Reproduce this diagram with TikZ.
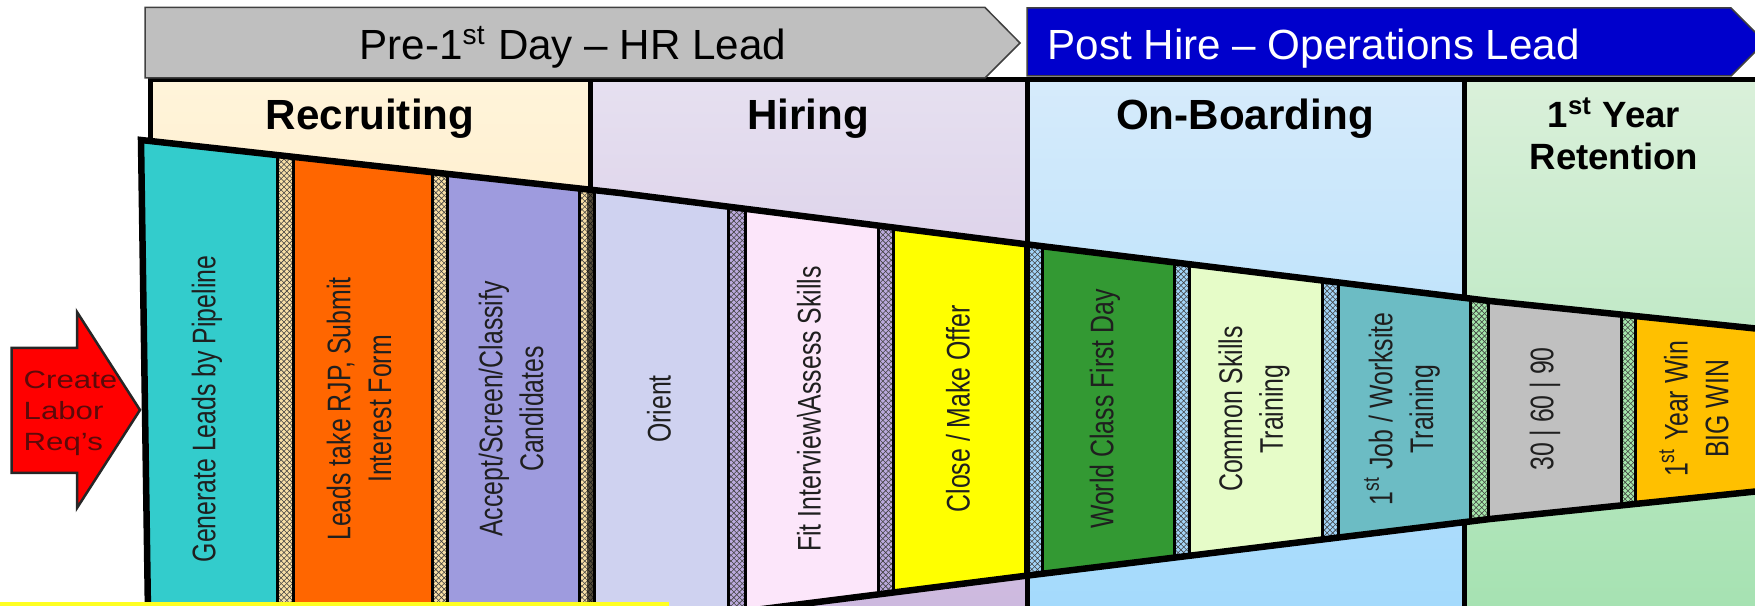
\documentclass[tikz,border=0pt]{standalone}
\usepackage{fontspec}
\setmainfont{Liberation Sans}
\newfontfamily\narrowfont[FakeStretch=0.76]{Liberation Sans}
\newfontfamily\widefont[FakeStretch=1.25]{Liberation Sans}
\usetikzlibrary{patterns.meta}

\definecolor{bannergray}{HTML}{BFBFBF}
\definecolor{bannerblue}{HTML}{0000CC}
\definecolor{recT}{HTML}{FFF4DA}
\definecolor{recB}{HTML}{FDE2B0}
\definecolor{hirT}{HTML}{E6E0F0}
\definecolor{hirB}{HTML}{CDB9DF}
\definecolor{onbT}{HTML}{D6EBFB}
\definecolor{onbB}{HTML}{A4DAFC}
\definecolor{retT}{HTML}{DAF0DA}
\definecolor{retB}{HTML}{A6E2B2}
\definecolor{blkA}{HTML}{33CCCC}
\definecolor{blkB}{HTML}{FF6600}
\definecolor{blkC}{HTML}{9E9BDE}
\definecolor{blkD}{HTML}{CFD2F0}
\definecolor{blkE}{HTML}{FCE6FA}
\definecolor{blkF}{HTML}{FFFF00}
\definecolor{blkG}{HTML}{339933}
\definecolor{blkH}{HTML}{E6FCC8}
\definecolor{blkI}{HTML}{6CBCC4}
\definecolor{blkJ}{HTML}{C0C0C0}
\definecolor{blkK}{HTML}{FFC000}
\definecolor{sepR}{HTML}{F8DFA6}
\definecolor{sepH}{HTML}{BBAADD}
\definecolor{sepO}{HTML}{A2D4F8}
\definecolor{sepT}{HTML}{A4E6AA}
\definecolor{reqtext}{HTML}{5C0A0A}
\definecolor{boxyellow}{HTML}{FFFF22}

\tikzdeclarepattern{
  name=xmesh,
  type=uncolored,
  bottom left={(-0.1pt,-0.1pt)},
  top right={(1.7pt,1.7pt)},
  tile size={(1.6pt,1.6pt)},
  code={
    \draw[line width=0.16pt] (0pt,0pt) -- (1.6pt,1.6pt) (0pt,1.6pt) -- (1.6pt,0pt);
  }
}

\tikzset{
  blocktext/.style={rotate=90, align=center, inner sep=0pt, text=black!88,
    font=\narrowfont\fontsize{9.3pt}{11.6pt}\selectfont},
  headtext/.style={inner sep=0pt, font=\bfseries\fontsize{12pt}{14pt}\selectfont},
  rettext/.style={inner sep=0pt, align=center, font=\bfseries\fontsize{10.4pt}{12pt}\selectfont},
  bannertext/.style={inner sep=0pt, font=\fontsize{12pt}{14pt}\selectfont},
  banner/.style={draw=black!75, line width=0.15mm, line join=miter},
  hdrline/.style={line width=0.5mm},
  sepline/.style={line width=0.3mm},
  funnelline/.style={line width=0.65mm, line join=miter},
}

\begin{document}
\begin{tikzpicture}[x=0.1mm, y=-0.1mm]
\useasboundingbox (0,0) rectangle (1755,606);
\clip (0,0) rectangle (1755,606);

% header boxes
\fill[top color=recT, bottom color=recB] (150,80) rectangle (590,606);
\fill[top color=hirT, bottom color=hirB] (590,80) rectangle (1027,606);
\fill[top color=onbT, bottom color=onbB] (1027,80) rectangle (1464.5,606);
\fill[top color=retT, bottom color=retB] (1464.5,80) rectangle (1770,606);
\draw[hdrline] (147.5,80) -- (1770,80);
\draw[hdrline] (150,80) -- (150,606) (590,80) -- (590,606) (1027,80) -- (1027,606) (1464.5,80) -- (1464.5,606);

% funnel blocks
\begin{scope}
\clip (141,140) -- (620,193) -- (1024,244) -- (1490,301) -- (1770,330) -- (1770,490) -- (1490,519) -- (1024,576) -- (620,627) -- (149,680) -- cycle;
\foreach \l/\r/\c in {120/277/blkA, 293/432/blkB, 447/580/blkC, 594/729/blkD, 745/878/blkE, 893/1026/blkF, 1042/1174/blkG, 1189/1323/blkH, 1338/1471/blkI, 1488/1622/blkJ, 1635/1780/blkK}
  \fill[\c] (\l,100) rectangle (\r,700);
\foreach \a/\b/\c in {277/293/sepR, 432/447/sepR, 579.5/594/sepR, 728.5/745/sepH, 878/893/sepH, 1027/1042.5/sepO, 1174/1189.5/sepO, 1322.5/1338.5/sepO, 1470.5/1488.5/sepT, 1621.5/1635.5/sepT}
{
  \fill[\c] (\a,100) rectangle (\b,700);
  \fill[pattern=xmesh, pattern color=black!75] (\a,100) rectangle (\b,700);
  \draw[sepline] (\a,100) -- (\a,700) (\b,100) -- (\b,700);
}
\fill[black, opacity=0.65] (587,100) rectangle (595,700);
\draw[line width=0.55mm] (1027,100) -- (1027,700);
\end{scope}
\draw[funnelline] (141,140) -- (620,193) -- (1024,244) -- (1490,301) -- (1770,330) -- (1770,490) -- (1490,519) -- (1024,576) -- (620,627) -- (149,680) -- cycle;

% yellow box at the bottom
\fill[boxyellow] (0,602.5) rectangle (669,620);

% create labor req arrow
\draw[fill=red, draw=black!85, line width=0.25mm, line join=miter] (11.7,348) -- (77,348) -- (77,312) -- (140,410) -- (77,508) -- (77,473) -- (11.7,473) -- cycle;
\node[anchor=west, align=left, inner sep=0pt, text=reqtext, font=\widefont\fontsize{7.1pt}{8.8pt}\selectfont] (req) at (23,413) {Create\\Labor\\Req’s};

% banners
\draw[banner, fill=bannergray] (145,7.5) -- (985,7.5) -- (1020,43) -- (985,78) -- (145,78) -- cycle;
\draw[banner, fill=bannerblue] (1027,8) -- (1731,8) -- (1765,42) -- (1731,76) -- (1027,76) -- cycle;
\node[bannertext, anchor=base] (pre) at (573,60) {Pre-1\textsuperscript{st} Day – HR Lead};
\node[bannertext, anchor=base west, text=white] (post) at (1047,60) {Post Hire – Operations Lead};

% header texts
\node[headtext, anchor=base] (rec) at (370,130) {Recruiting};
\node[headtext, anchor=base] (hir) at (808,130) {Hiring};
\node[headtext, anchor=base] (onb) at (1245,130) {On-Boarding};
\node[rettext] (ret) at (1614,134) {1\textsuperscript{st} Year\\Retention};

% block texts
\node[blocktext] (t1) at (207,409) {Generate Leads by Pipeline};
\node[blocktext] (t2) at (359,409) {Leads take RJP, Submit\\Interest Form};
\node[blocktext] (t3) at (511,409) {Accept/Screen/Classify\\Candidates};
\node[blocktext] (t4) at (659,409) {Orient};
\node[blocktext] (t5) at (809,409) {Fit Interview\textbackslash Assess Skills};
\node[blocktext] (t6) at (958,409) {Close / Make Offer};
\node[blocktext] (t7) at (1105,409) {World Class First Day};
\node[blocktext] (t8) at (1254,409) {Common Skills\\Training};
\node[blocktext] (t9) at (1402,409) {1\textsuperscript{st} Job / Worksite\\Training};
\node[blocktext] (t10) at (1545,409) {30 | 60 | 90};
\node[blocktext] (t11) at (1694,409) {1\textsuperscript{st} Year Win\\BIG WIN};
\end{tikzpicture}
\end{document}
